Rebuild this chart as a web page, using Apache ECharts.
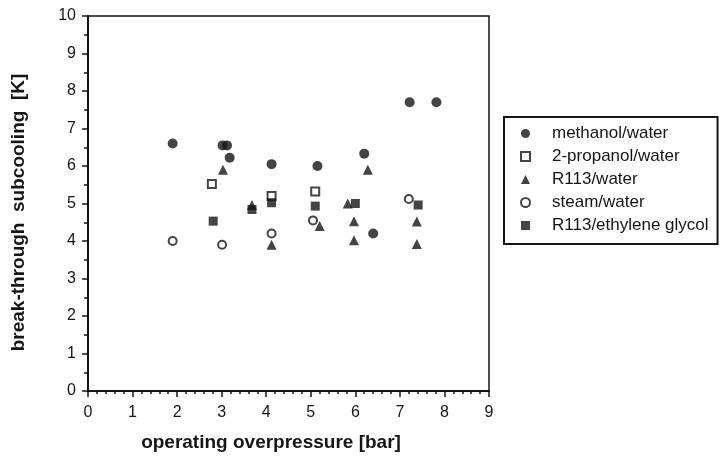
<!DOCTYPE html>
<html>
<head>
<meta charset="utf-8">
<script src="https://cdn.jsdelivr.net/npm/echarts@6/dist/echarts.min.js"></script>
<style>
  html, body { margin: 0; padding: 0; background: #fff; }
  #chart { width: 722px; height: 458px; }
</style>
</head>
<body>
<div id="chart"></div>
<script>
// values: [overpressure bar, subcooling K]
const methanolWater = [[1.9, 6.6], [3.02, 6.55], [3.12, 6.55], [3.18, 6.22], [4.12, 6.05], [5.15, 6.0], [6.2, 6.33], [6.4, 4.2], [7.22, 7.7], [7.82, 7.7]]
const propanolWater = [[2.78, 5.52], [4.12, 5.2], [5.1, 5.32]]
const r113Water = [[3.03, 5.9], [3.68, 4.96], [4.12, 3.9], [5.2, 4.4], [5.83, 5.0], [5.97, 4.53], [5.97, 4.02], [6.28, 5.9], [7.38, 4.52], [7.38, 3.92]]
const steamWater = [[1.9, 4.0], [3.01, 3.9], [4.12, 4.2], [5.05, 4.55], [7.2, 5.12]]
const r113Glycol = [[2.81, 4.53], [3.68, 4.84], [4.12, 5.02], [5.1, 4.93], [6.0, 5.0], [7.41, 4.96]]

const seriesNames = ['methanol/water', '2-propanol/water', 'R113/water', 'steam/water', 'R113/ethylene glycol']
const xTicks = [0, 9, 1]
const yTicks = [0, 10, 1]

const ink = '#151515'
const font = '"Liberation Sans", Arial, Helvetica, sans-serif'

const chart = echarts.init(document.getElementById('chart'))

function scatter(name, data, symbol, size, empty) {
  return {
    name: name,
    type: 'scatter',
    data: data,
    symbol: symbol,
    symbolSize: size,
    itemStyle: empty
      ? { color: ink, borderColor: ink, borderWidth: 2 }
      : { color: ink },
    emphasis: { disabled: true }
  }
}

const option = {
  backgroundColor: '#fff',
  animation: false,
  textStyle: { fontFamily: font, color: ink },
  grid: {
    left: 88,
    right: 233,
    top: 16,
    bottom: 67,
    show: true,
    borderColor: ink,
    borderWidth: 1.5
  },
  legend: {
    orient: 'vertical',
    left: 504,
    top: 117,
    padding: [8, 9, 10, 16],
    itemWidth: 9,
    itemHeight: 9,
    itemGap: 6,
    borderColor: ink,
    borderWidth: 2,
    backgroundColor: '#fff',
    textStyle: { fontFamily: font, fontSize: 17, lineHeight: 17, color: ink, padding: [0, 0, 0, 17] },
    data: seriesNames
  },
  xAxis: {
    type: 'value',
    min: xTicks[0],
    max: xTicks[1],
    interval: xTicks[2],
    name: 'operating overpressure [bar]',
    nameLocation: 'middle',
    nameGap: 42,
    nameTextStyle: { fontFamily: font, fontSize: 19, fontWeight: 'bold', color: ink, padding: [0, 35, 0, 0] },
    axisLine: { show: true, lineStyle: { color: ink, width: 2 } },
    axisTick: { show: true, length: 6, lineStyle: { color: ink, width: 1.5 } },
    minorTick: { show: true, splitNumber: 5, length: 3, lineStyle: { color: ink, width: 1.5 } },
    axisLabel: { fontFamily: font, fontSize: 16, color: ink, margin: 14 },
    splitLine: { show: false }
  },
  yAxis: {
    type: 'value',
    min: yTicks[0],
    max: yTicks[1],
    interval: yTicks[2],
    name: 'break-through  subcooling  [K]',
    nameLocation: 'middle',
    nameGap: 60,
    nameTextStyle: { fontFamily: font, fontSize: 19, fontWeight: 'bold', color: ink, padding: [0, 18, 0, 0] },
    axisLine: { show: true, lineStyle: { color: ink, width: 2 } },
    axisTick: { show: true, length: 6, lineStyle: { color: ink, width: 1.5 } },
    minorTick: { show: true, splitNumber: 2, length: 4, lineStyle: { color: ink, width: 1.5 } },
    axisLabel: { fontFamily: font, fontSize: 16, color: ink, margin: 12 },
    splitLine: { show: false }
  },
  series: [
    scatter(seriesNames[0], methanolWater, 'circle', 10, false),
    scatter(seriesNames[1], propanolWater, 'emptyRect', 8, true),
    scatter(seriesNames[2], r113Water, 'triangle', 10, false),
    scatter(seriesNames[3], steamWater, 'emptyCircle', 8, true),
    scatter(seriesNames[4], r113Glycol, 'rect', 9, false)
  ]
}

chart.setOption(option)
</script>
</body>
</html>
